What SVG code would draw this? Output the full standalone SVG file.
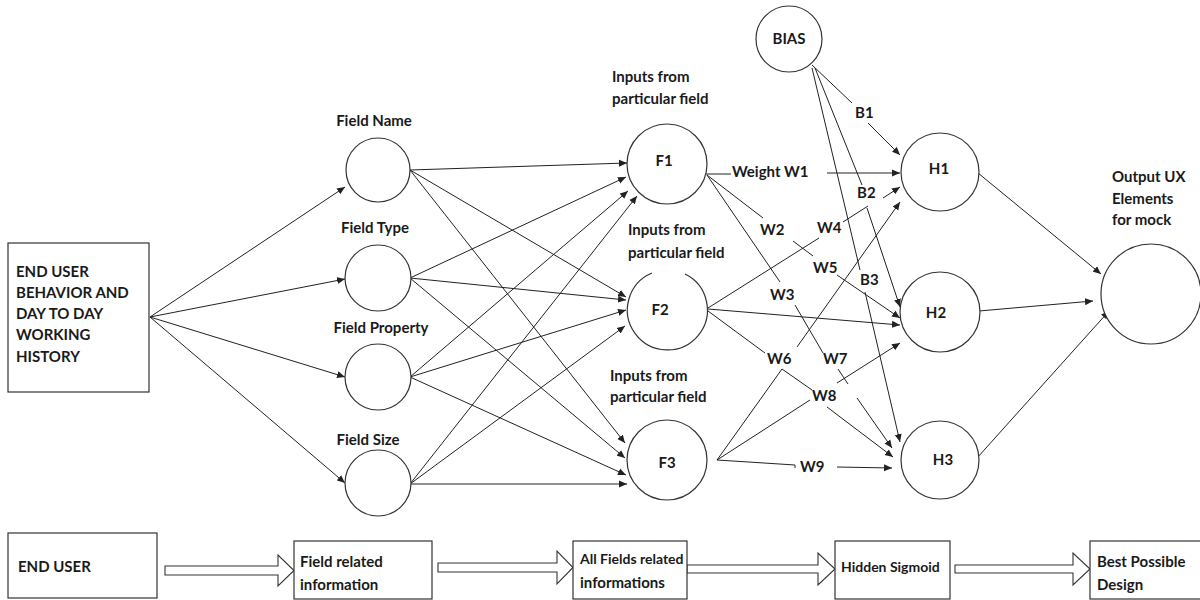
<svg xmlns="http://www.w3.org/2000/svg" width="1200" height="600" viewBox="0 0 1200 600">
<style>
  text { font-family: Lato, "Liberation Sans", sans-serif; font-weight: bold; font-size: 15px; fill: #1a1a1a; }
  .c { text-anchor: middle; }
  .sm { font-size: 14px; }
  .node { fill: #fff; stroke: #333; stroke-width: 1.2; }
  .box { fill: #fff; stroke: #333; stroke-width: 1.2; }
  .ln { stroke: #222; stroke-width: 1; fill: none; }
  .ar { stroke: #222; stroke-width: 1; fill: none; marker-end: url(#ah); }
  .blk { fill: #fff; stroke: #333; stroke-width: 1.1; }
</style>
<defs>
  <marker id="ah" markerUnits="userSpaceOnUse" markerWidth="9" markerHeight="8" refX="8" refY="4" orient="auto">
    <path d="M0,0.5 L8,4 L0,7.5 Z" fill="#222"/>
  </marker>
</defs>
<rect width="1200" height="600" fill="#fff"/>

<g id="connectors">
  <!-- fan from source box -->
  <line class="ar" x1="150" y1="317" x2="345" y2="187"/>
  <line class="ar" x1="150" y1="317" x2="345" y2="279"/>
  <line class="ar" x1="150" y1="317" x2="345" y2="377"/>
  <line class="ar" x1="150" y1="317" x2="345" y2="483"/>
  <!-- fields to F -->
  <line class="ar" x1="410" y1="170" x2="627" y2="163"/>
  <line class="ar" x1="410" y1="170" x2="626" y2="297"/>
  <line class="ar" x1="410" y1="170" x2="625" y2="443"/>
  <line class="ar" x1="410" y1="278" x2="626" y2="177"/>
  <line class="ar" x1="410" y1="278" x2="626" y2="300"/>
  <line class="ar" x1="410" y1="278" x2="625" y2="458"/>
  <line class="ar" x1="410" y1="377" x2="628" y2="191"/>
  <line class="ar" x1="410" y1="377" x2="626" y2="310"/>
  <line class="ar" x1="410" y1="377" x2="626" y2="475"/>
  <line class="ar" x1="410" y1="484" x2="637" y2="196"/>
  <line class="ar" x1="410" y1="484" x2="625" y2="326"/>
  <line class="ar" x1="410" y1="484" x2="627" y2="484"/>
  <!-- F1 -->
  <line class="ln" x1="705" y1="174" x2="731" y2="174"/>
  <line class="ar" x1="827" y1="173" x2="900" y2="173"/>
  <line class="ln" x1="707" y1="175" x2="763" y2="218"/>
  <line class="ln" x1="793" y1="241" x2="813" y2="256"/>
  <line class="ar" x1="837" y1="275" x2="900" y2="318"/>
  <line class="ln" x1="707" y1="175" x2="780" y2="282"/>
  <line class="ln" x1="795" y1="305" x2="823" y2="353"/>
  <line class="ln" x1="838" y1="369" x2="848" y2="384"/>
  <line class="ar" x1="857" y1="398" x2="892" y2="448"/>
  <!-- F2 -->
  <line class="ln" x1="708" y1="308" x2="819" y2="238"/>
  <line class="ln" x1="843" y1="222" x2="868" y2="206"/>
  <line class="ar" x1="883" y1="198" x2="900" y2="187"/>
  <line class="ar" x1="708" y1="309" x2="900" y2="325"/>
  <line class="ln" x1="708" y1="311" x2="765" y2="353"/>
  <line class="ar" x1="797" y1="347" x2="900" y2="202"/>
  <!-- F3 -->
  <line class="ln" x1="717" y1="460" x2="782" y2="369"/>
  <line class="ln" x1="782" y1="369" x2="812" y2="390"/>
  <line class="ln" x1="717" y1="460" x2="810" y2="400"/>
  <line class="ar" x1="837" y1="383" x2="900" y2="343"/>
  <line class="ar" x1="827" y1="407" x2="893" y2="457"/>
  <polyline class="ln" points="717,460 795,465 795,468"/>
  <line class="ar" x1="837" y1="467" x2="892" y2="468"/>
  <!-- bias -->
  <line class="ln" x1="812" y1="65" x2="852" y2="103"/>
  <line class="ar" x1="868" y1="123" x2="900" y2="155"/>
  <line class="ln" x1="815" y1="68" x2="862" y2="185"/>
  <line class="ar" x1="867" y1="208" x2="900" y2="307"/>
  <line class="ln" x1="812" y1="68" x2="860" y2="270"/>
  <line class="ar" x1="865" y1="292" x2="900" y2="442"/>
  <!-- hidden to output -->
  <line class="ar" x1="978" y1="173" x2="1101" y2="274"/>
  <line class="ar" x1="979" y1="311" x2="1093" y2="301"/>
  <line class="ar" x1="977" y1="458" x2="1109" y2="311"/>
  <!-- bottom flow arrows -->
  <polygon class="blk" points="165,566 278,566 278,555 294,570.5 278,586 278,575 165,575"/>
  <polygon class="blk" points="438,563 557,563 557,551 573,567.5 557,584 557,572 438,572"/>
  <polygon class="blk" points="687,565 818,565 818,553 835,569 818,585 818,573 687,573"/>
  <polygon class="blk" points="955,565 1073,565 1073,553 1090,569 1073,585 1073,573 955,573"/>
</g>

<g id="weight-labels">
  <text x="732" y="177">Weight W1</text>
  <text x="760" y="235">W2</text>
  <text x="770" y="300">W3</text>
  <text x="817" y="233">W4</text>
  <text x="813" y="273">W5</text>
  <text x="767" y="364">W6</text>
  <text x="823" y="364">W7</text>
  <text x="812" y="401">W8</text>
  <text x="800" y="472">W9</text>
  <text x="855" y="118">B1</text>
  <text x="857" y="198">B2</text>
  <text x="860" y="285">B3</text>
</g>

<g id="source">
  <rect class="box" x="8" y="243" width="141" height="149"/>
  <text x="16" y="277">END USER</text>
  <text x="16" y="298">BEHAVIOR AND</text>
  <text x="16" y="319">DAY TO DAY</text>
  <text x="16" y="340">WORKING</text>
  <text x="16" y="362">HISTORY</text>
</g>

<g id="field-name">
  <circle class="node" cx="378" cy="170" r="32"/>
  <text class="c" x="374" y="126">Field Name</text>
</g>
<g id="field-type">
  <circle class="node" cx="378" cy="278" r="33"/>
  <text class="c" x="375" y="233">Field Type</text>
</g>
<g id="field-property">
  <circle class="node" cx="378" cy="377" r="33"/>
  <text class="c" x="381" y="333">Field Property</text>
</g>
<g id="field-size">
  <circle class="node" cx="378" cy="483" r="33"/>
  <text class="c" x="368" y="445">Field Size</text>
</g>

<g id="f1">
  <circle class="node" cx="667" cy="164" r="40"/>
  <text class="c" x="664" y="166">F1</text>
  <text x="612" y="82">Inputs from</text>
  <text x="612" y="104">particular field</text>
</g>
<g id="f2">
  <path class="node" d="M685,274 A40,40 0 1 1 652,273"/>
  <text class="c" x="660" y="315">F2</text>
  <text x="628" y="235">Inputs from</text>
  <text x="628" y="258">particular field</text>
</g>
<g id="f3">
  <circle class="node" cx="667" cy="460" r="40"/>
  <text class="c" x="667" y="468">F3</text>
  <text x="610" y="381">Inputs from</text>
  <text x="610" y="402">particular field</text>
</g>

<g id="bias">
  <circle class="node" cx="789" cy="39" r="33"/>
  <text class="c" x="789" y="44">BIAS</text>
</g>

<g id="h1">
  <circle class="node" cx="940" cy="172" r="39"/>
  <text class="c" x="939" y="174">H1</text>
</g>
<g id="h2">
  <circle class="node" cx="940" cy="312" r="40"/>
  <text class="c" x="936" y="318">H2</text>
</g>
<g id="h3">
  <circle class="node" cx="940" cy="460" r="39"/>
  <text class="c" x="943" y="465">H3</text>
</g>

<g id="output">
  <circle class="node" cx="1151" cy="294" r="50"/>
  <text x="1112" y="182">Output UX</text>
  <text x="1112" y="204">Elements</text>
  <text x="1112" y="225">for mock</text>
</g>

<g id="flow-end-user">
  <rect class="box" x="8" y="533" width="149" height="65"/>
  <text x="18" y="572">END USER</text>
</g>
<g id="flow-field-info">
  <rect class="box" x="294" y="541" width="138" height="58"/>
  <text x="300" y="567">Field related</text>
  <text x="300" y="590">information</text>
</g>
<g id="flow-all-fields">
  <rect class="box" x="573" y="541" width="114" height="58"/>
  <text class="sm" x="580" y="564">All Fields related</text>
  <text x="580" y="588">informations</text>
</g>
<g id="flow-hidden">
  <rect class="box" x="835" y="541" width="115" height="58"/>
  <text class="sm" x="841" y="572">Hidden Sigmoid</text>
</g>
<g id="flow-best">
  <rect class="box" x="1090" y="541" width="115" height="58"/>
  <text x="1097" y="567">Best Possible</text>
  <text x="1097" y="590">Design</text>
</g>
</svg>
